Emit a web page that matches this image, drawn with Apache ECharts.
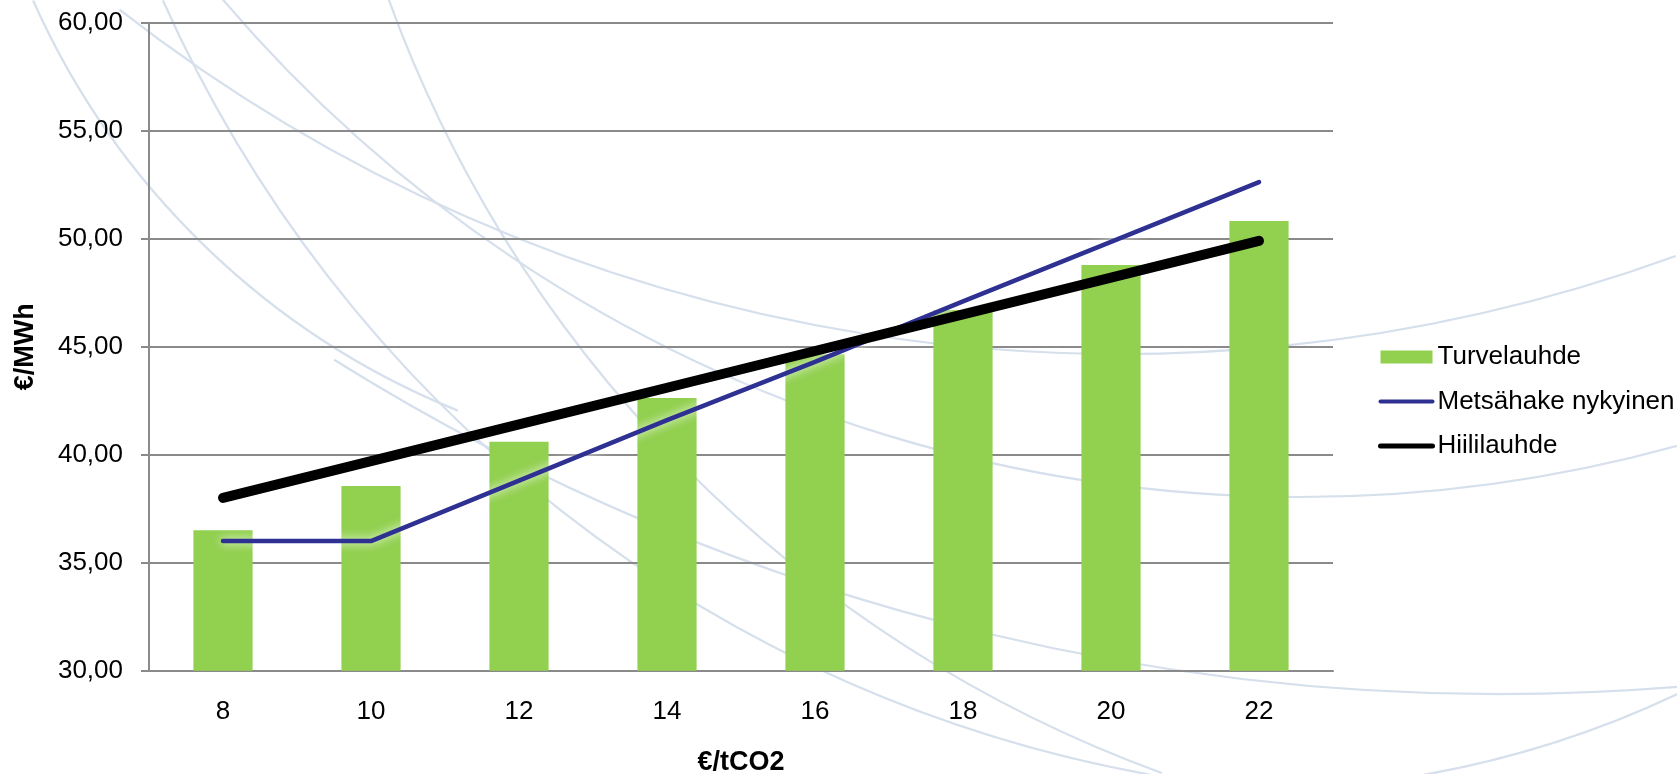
<!DOCTYPE html>
<html>
<head>
<meta charset="utf-8">
<script src="https://cdn.jsdelivr.net/npm/echarts@6/dist/echarts.min.js"></script>
<style>
html, body { margin: 0; padding: 0; background: #fff; }
#main { width: 1677px; height: 774px; }
</style>
</head>
<body>
<div id="main"></div>
<script>
/* arvot luettu kuvasta */
var hinnat = ['8', '10', '12', '14', '16', '18', '20', '22'];
var turvelauhde = [36.5, 38.55, 40.6, 42.62, 44.65, 46.7, 48.78, 50.82];
var metsahake = [36.0, 36.0, 38.8, 41.6, 44.3, 47.1, 49.85, 52.62];
var hiililauhde = [38.0, 39.7, 41.4, 43.1, 44.8, 46.5, 48.2, 49.9];

// taustan kaaret (koriste): cx, cy, r, alkukulma, loppukulma (asteina)
var kaaret = [
	[753, -320, 788, 112, 156],
	[1388, -545, 1341, 100, 156],
	[1120, -1271, 1625, 70, 128],
	[1300, -918, 1415, 74, 140],
	[1500, -1506, 2200, 85, 122],
	[1604, -442, 1293, 110, 161],
	[1250, -210, 1000, 64, 80]
];

var fontti = '"Liberation Sans", Arial, sans-serif';
var harmaa = '#8a8a8a';

var chart = echarts.init(document.getElementById('main'));

var taustat = [];
for (var i = 0; i < kaaret.length; i++) {
	taustat.push({
		type : 'arc',
		silent : true,
		z : -10,
		shape : {
			cx : kaaret[i][0],
			cy : kaaret[i][1],
			r : kaaret[i][2],
			startAngle : kaaret[i][3] * Math.PI / 180,
			endAngle : kaaret[i][4] * Math.PI / 180,
			clockwise : true
		},
		style : { fill : 'none', stroke : '#d6dfec', lineWidth : 2.2 }
	});
}

chart.setOption({
	backgroundColor : '#fff',
	animation : false,
	graphic : taustat,
	grid : {
		left : 149,
		top : 22.7,
		right : 344,
		bottom : 103.3,
		containLabel : false,
		outerBoundsMode : 'none'
	},
	legend : {
		orient : 'vertical',
		left : 1373,
		top : 339,
		itemWidth : 52,
		itemHeight : 13,
		itemGap : 18.5,
		textStyle : {
			fontFamily : fontti,
			fontSize : 26,
			color : '#000'
		},
		data : [ {
			name : 'Turvelauhde',
			icon : 'rect'
		}, {
			name : 'Metsähake nykyinen',
			lineStyle : { width : 4 },
			itemStyle : { opacity : 0 }
		}, {
			name : 'Hiililauhde',
			lineStyle : { width : 5 },
			itemStyle : { opacity : 0 }
		} ]
	},
	xAxis : {
		type : 'category',
		data : hinnat,
		name : '€/tCO2',
		nameLocation : 'middle',
		nameGap : 78,
		nameTextStyle : {
			fontFamily : fontti,
			fontSize : 27,
			fontWeight : 'bold',
			color : '#000'
		},
		axisLine : { lineStyle : { color : harmaa, width : 2 } },
		axisTick : { show : false },
		axisLabel : {
			margin : 28,
			fontFamily : fontti,
			fontSize : 26,
			color : '#000'
		}
	},
	yAxis : {
		type : 'value',
		min : 30,
		max : 60,
		interval : 5,
		name : '€/MWh',
		nameLocation : 'middle',
		nameGap : 110,
		nameTextStyle : {
			fontFamily : fontti,
			fontSize : 27,
			fontWeight : 'bold',
			color : '#000'
		},
		axisLine : { show : true, lineStyle : { color : harmaa, width : 2 } },
		axisTick : { show : true, length : 8, lineStyle : { color : harmaa, width : 2 } },
		splitLine : { lineStyle : { color : harmaa, width : 2 } },
		axisLabel : {
			margin : 26,
			fontFamily : fontti,
			fontSize : 26,
			color : '#000',
			formatter : function(v) {
				return v.toFixed(2).replace('.', ',');
			}
		}
	},
	series : [ {
		name : 'Turvelauhde',
		type : 'bar',
		data : turvelauhde,
		barWidth : '40%',
		itemStyle : { color : '#92d050' }
	}, {
		name : 'Metsähake nykyinen',
		type : 'line',
		data : metsahake,
		symbol : 'none',
		z : 3,
		color : '#2e3192',
		lineStyle : {
			color : '#2e3192',
			width : 4.5,
			cap : 'round',
			shadowColor : 'rgba(255,255,255,0.95)',
			shadowBlur : 10
		}
	}, {
		name : 'Hiililauhde',
		type : 'line',
		data : hiililauhde,
		symbol : 'none',
		z : 4,
		color : '#000',
		lineStyle : {
			color : '#000',
			width : 10,
			cap : 'round'
		}
	} ]
});
</script>
</body>
</html>
